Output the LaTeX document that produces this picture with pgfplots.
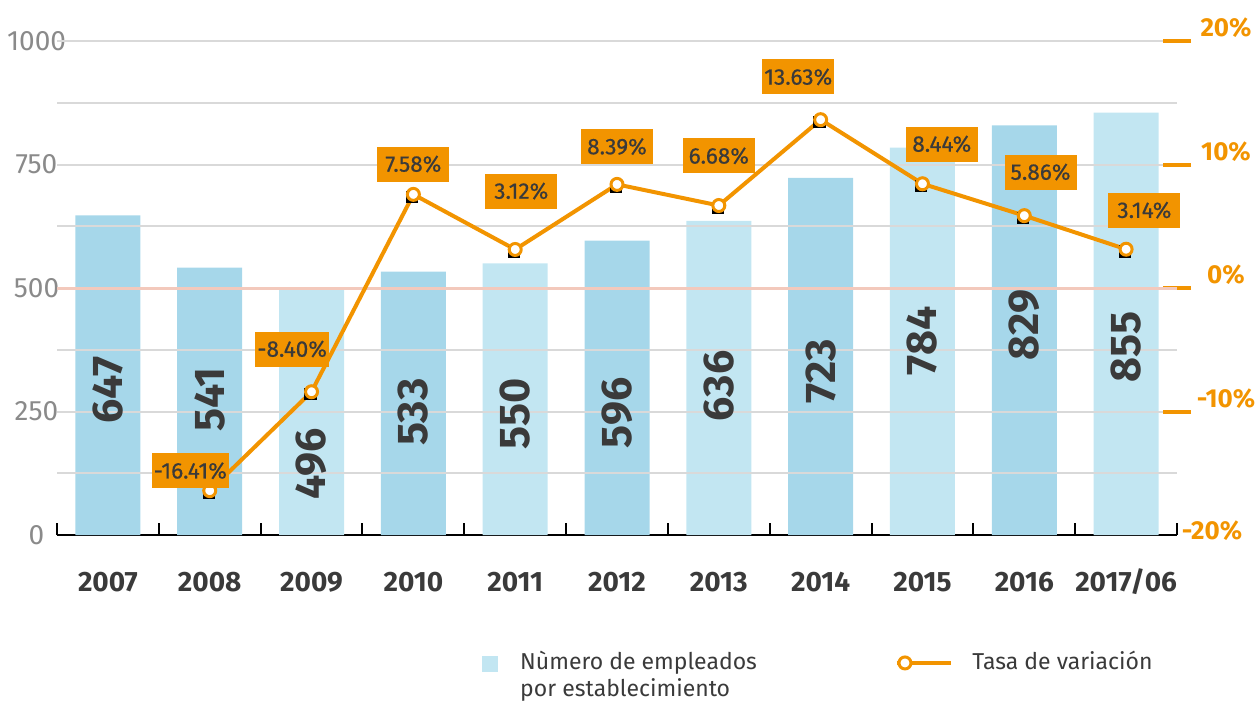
\documentclass[border=0pt]{standalone}
\usepackage{pgfplots}
\pgfplotsset{compat=1.18}
\usepackage{fontspec}
\setmainfont{Fira Sans}
\newfontfamily\medfont[FakeBold=0.5]{Fira Sans}
\definecolor{bardark}{HTML}{A6D7EA}
\definecolor{barlight}{HTML}{C2E6F2}
\definecolor{orng}{HTML}{F29400}
\definecolor{txt}{HTML}{3A3A3A}
\definecolor{gridc}{HTML}{D9D9D9}
\definecolor{zeroc}{HTML}{F3C9BC}
\definecolor{tickgray}{HTML}{8A8A8A}
\pgfplotsset{base/.style={width=560pt,height=247pt,scale only axis,xmin=-0.5,xmax=10.5,clip=false}}
\begin{document}
\begin{tikzpicture}
\useasboundingbox (-28.5pt,-83.5pt) rectangle (600pt,267.5pt);
% bars
\begin{axis}[base,
  ymin=0,ymax=1000,
  axis x line*=bottom, axis y line*=left,
  x axis line style={black,line width=1pt,-},
  y axis line style={draw=none},
  xtick={0,...,10},
  xticklabels={2007,2008,2009,2010,2011,2012,2013,2014,2015,2016,2017/06},
  major x tick style={draw=none},
  minor xtick={-0.5,0.5,...,10.5},
  minor x tick style={black,line width=1pt},
  minor tick length=6pt,
  tick align=inside,
  xticklabel style={font=\bfseries\fontsize{14}{16}\selectfont,text=txt,anchor=center,yshift=-23.5pt},
  ytick={0,250,500,750,1000},
  yticklabels={0,250,500,750,1000},
  major y tick style={draw=none},
  yticklabel style={font=\fontsize{14}{16}\selectfont,text=tickgray,anchor=center,xshift=-10.25pt},
]
\addplot[ybar,bar width=32.5pt,bar shift=0pt,fill=bardark,draw=none] coordinates {(0,647)(1,541)(3,533)(5,596)(7,723)(9,829)};
\addplot[ybar,bar width=32.5pt,bar shift=0pt,fill=barlight,draw=none] coordinates {(2,496)(4,550)(6,636)(8,784)(10,855)};
\end{axis}
% line and grid
\begin{axis}[base,
  ymin=-20,ymax=20,
  axis x line=none, axis y line*=right,
  y axis line style={draw=none},
  ytick={-10,0,10,20}, yticklabels={-10\%,0\%,10\%,20\%},
  extra y ticks={-20}, extra y tick labels={-20\%},
  extra y tick style={major tick length=0pt,grid=none,tick label style={yshift=-4.5pt}},
  minor ytick={-15,-5,5,15},
  ymajorgrids, yminorgrids,
  major grid style={gridc,line width=1pt},
  minor grid style={gridc,line width=1pt},
  major tick length=14pt, tick align=center,
  major y tick style={orng,line width=2pt},
  minor y tick style={draw=none},
  yticklabel style={font=\bfseries\fontsize{13}{15}\selectfont,text=orng,anchor=center,xshift=17.5pt,yshift=6.5pt},
  legend columns=2,
  legend style={at={(0.3795,-0.226)},anchor=north west,draw=none,fill=none,inner sep=0pt,
     font=\fontsize{11.5}{13.5}\selectfont,text=txt,
     cells={anchor=base west},
     /tikz/every even column/.append style={column sep=67pt}},
]
\addlegendimage{legend image code/.code={\fill[barlight] (0pt,-0.5pt) rectangle (7.5pt,7pt); \path (16.5pt,0pt);}}
\addlegendentry{\begin{tabular}[t]{@{}l@{}}Nùmero de empleados\\por establecimiento\end{tabular}}
\addlegendimage{legend image code/.code={\draw[orng,line width=2pt] (0pt,3.5pt) -- (27pt,3.5pt); \draw[orng,fill=white,line width=1.5pt] (4pt,3.5pt) circle (3pt); \path (35.5pt,0pt);}}
\addlegendentry{Tasa de variación}
\addplot[zeroc,line width=1.5pt,forget plot] coordinates {(-0.5,0)(10.5,0)};
\addplot[only marks,mark=square*,mark size=2.8pt,black,forget plot,mark options={xshift=-0.6pt,yshift=-1.1pt}] coordinates {(1,-16.41)(2,-8.40)(3,7.58)(4,3.12)(5,8.39)(6,6.68)(7,13.63)(8,8.44)(9,5.86)(10,3.14)};
\addplot[orng,line width=2pt,mark=*,mark size=3pt,mark options={fill=white,draw=orng,line width=1.5pt,solid},forget plot] coordinates {(1,-16.41)(2,-8.40)(3,7.58)(4,3.12)(5,8.39)(6,6.68)(7,13.63)(8,8.44)(9,5.86)(10,3.14)};
\addplot[draw=none,mark=none,forget plot,nodes near coords,point meta=explicit symbolic,
  every node near coord/.append style={anchor=center,fill=orng,text=txt,font=\medfont\fontsize{11.3}{12}\selectfont,minimum width=36pt,minimum height=17.5pt,inner sep=1pt}]
  coordinates {(0.81,-14.8)[-16.41\%] (1.81,-4.94)[-8.40\%] (3.00,10.04)[7.58\%] (4.06,7.85)[3.12\%] (5.00,11.45)[8.39\%] (6.00,10.7)[6.68\%] (6.78,17.09)[13.63\%] (8.19,11.66)[8.44\%] (9.16,9.39)[5.86\%] (10.18,6.3)[3.14\%]};
\end{axis}
% bar value labels
\begin{axis}[base,ymin=0,ymax=1000,hide axis]
\addplot[draw=none,mark=none,nodes near coords,point meta=explicit symbolic,
  every node near coord/.append style={rotate=90,anchor=center,text=txt,font=\bfseries\fontsize{21.5}{22}\selectfont}]
  coordinates {(0,294)[647] (1,275)[541] (2,144)[496] (3,249)[533] (4,245)[550] (5,247)[596] (6,302)[636] (7,332)[723] (8,393)[784] (9,425)[829] (10,381)[855]};
\end{axis}
\end{tikzpicture}
\end{document}
